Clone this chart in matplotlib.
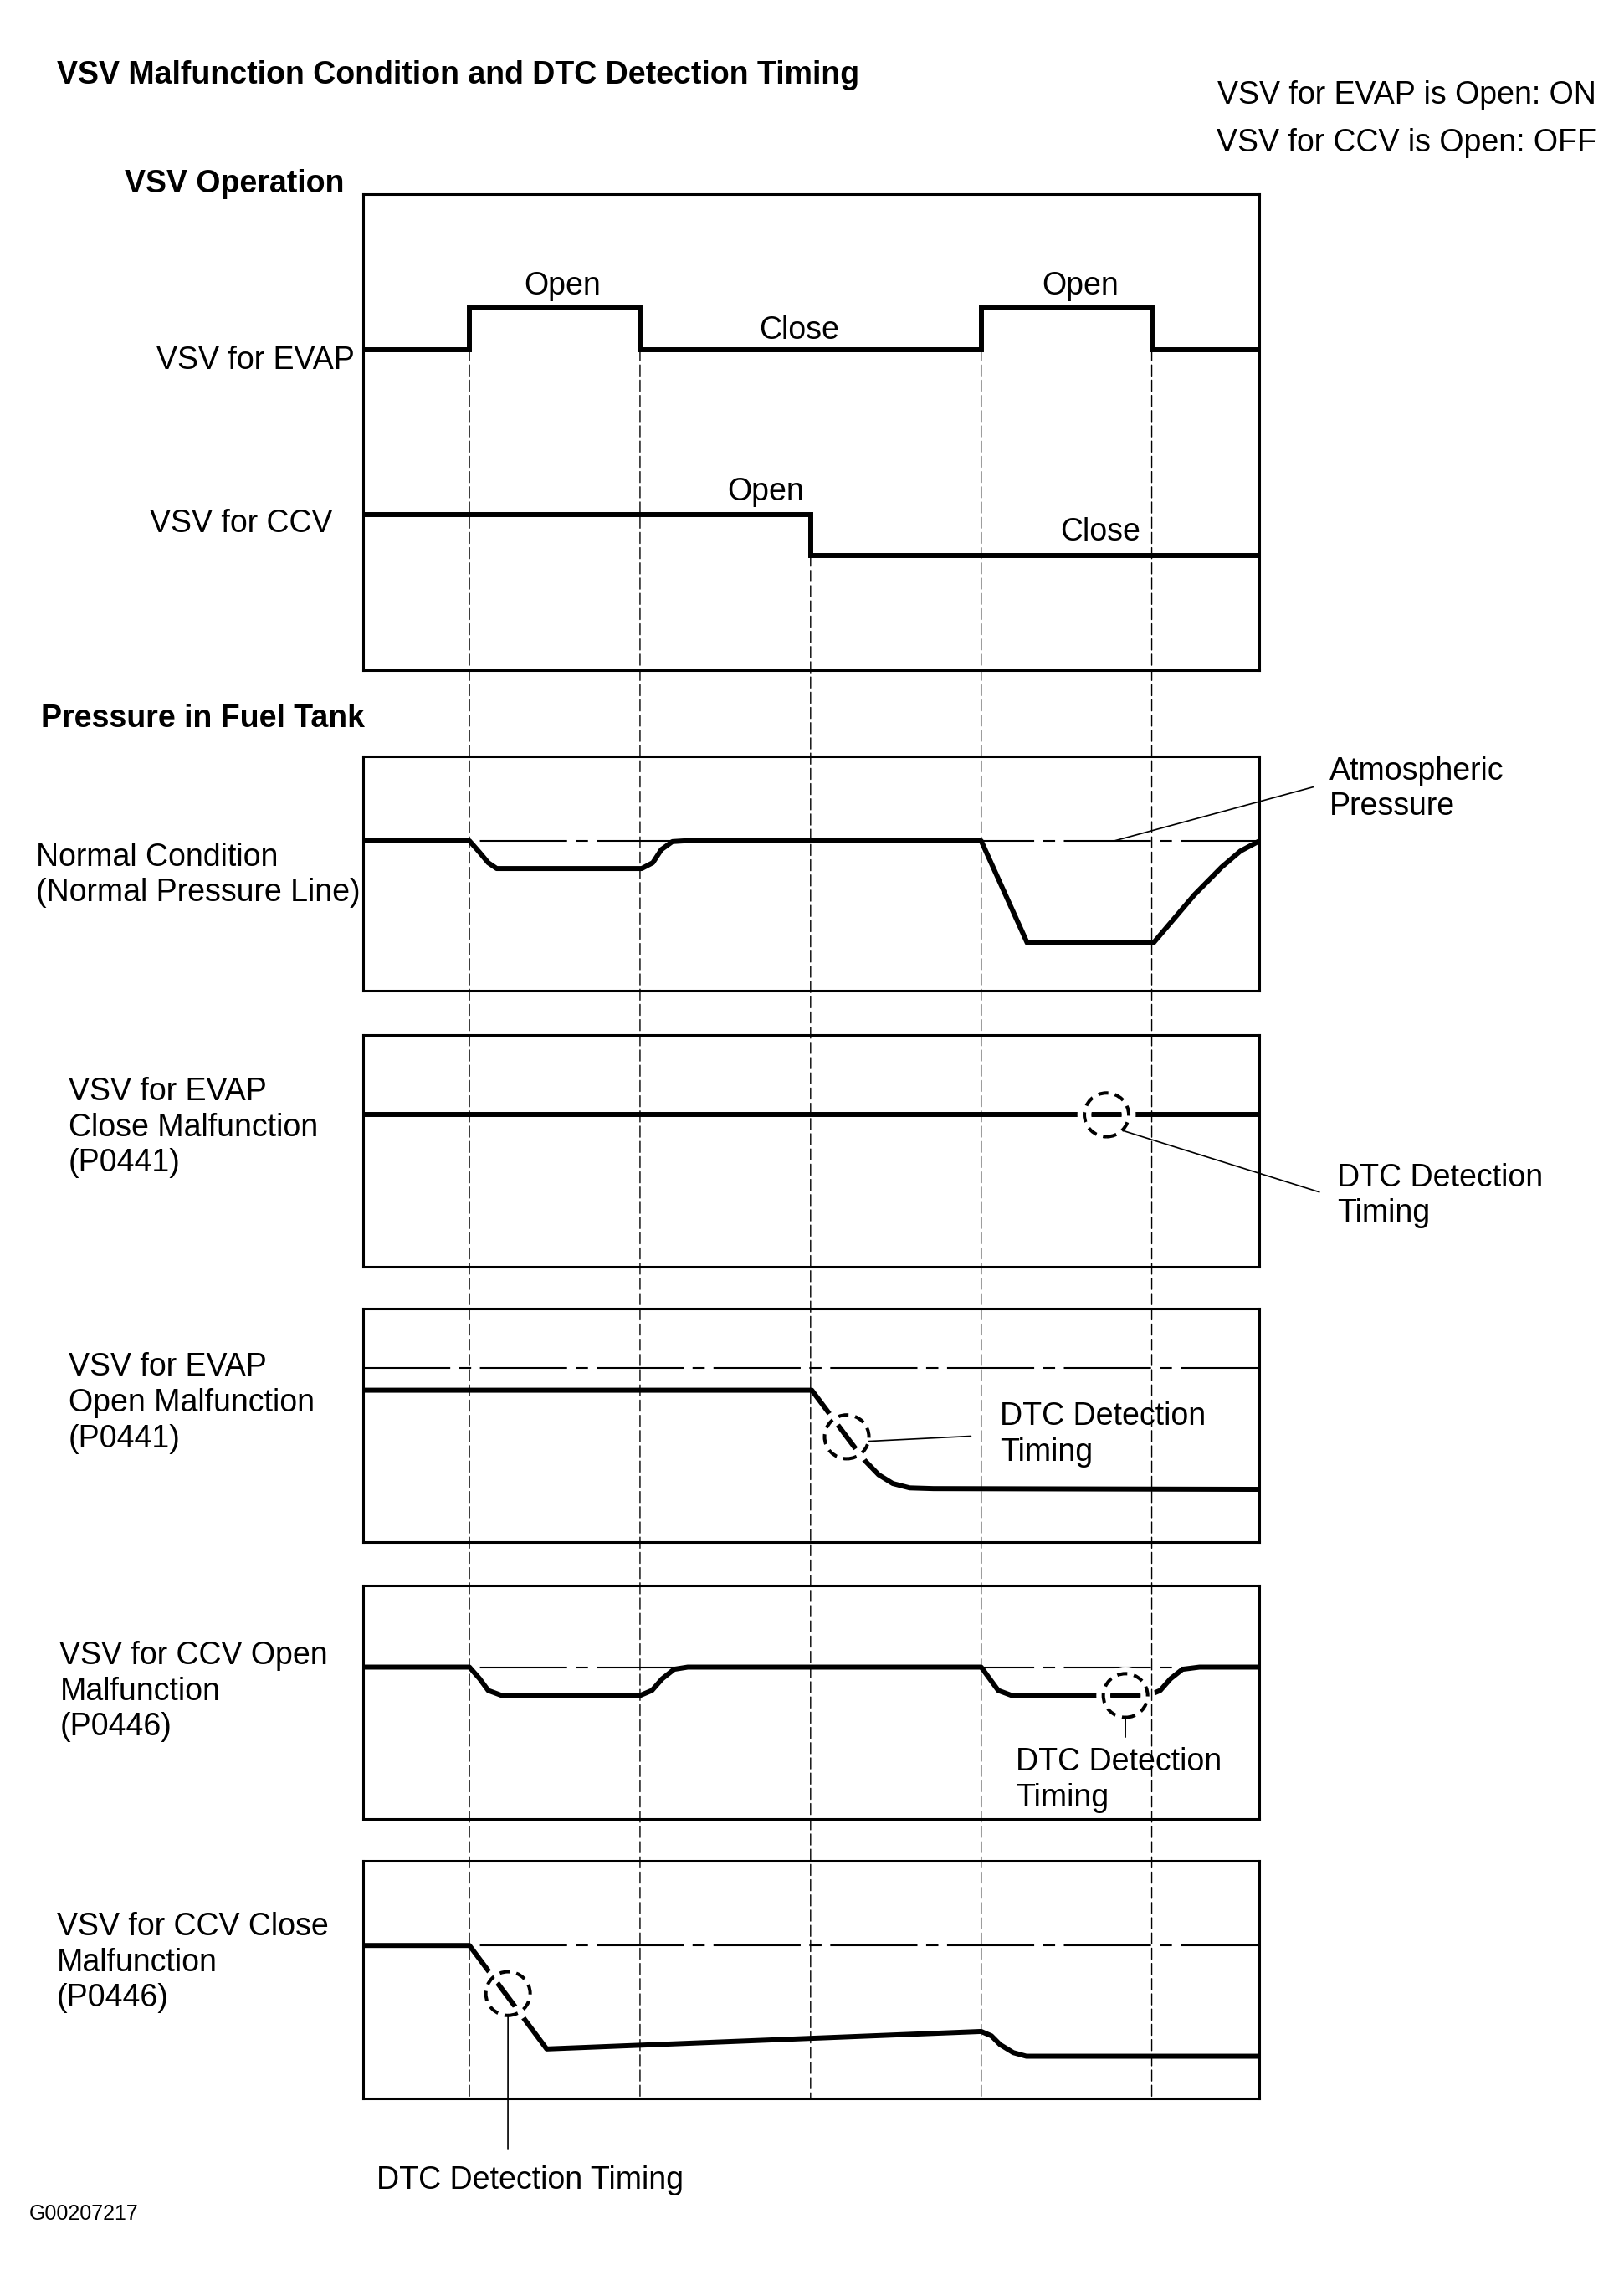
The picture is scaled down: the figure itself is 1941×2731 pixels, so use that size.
import matplotlib
matplotlib.use("Agg")
import matplotlib.pyplot as plt
from matplotlib.patches import Ellipse, ConnectionPatch

plt.rcParams["font.family"] = ["Liberation Sans", "DejaVu Sans"]

# layout grid the boxes and labels are placed on (reference drawing units)
W, H = 1114, 1568

# time axis: the five switching events, and the span of every panel
EVENT_T = [0, 1, 2, 3, 4]
T_MIN, T_MAX = -0.624, 4.632

# VSV operation levels
EVAP_T = [T_MIN, 0, 1, 3, 4, T_MAX]
EVAP_LEVEL = [22.0, 24.9, 22.0, 24.9, 22.0, 22.0]
CCV_T = [T_MIN, 2, T_MAX]
CCV_LEVEL = [10.7, 7.9, 7.9]

# pressure in fuel tank, 0 = atmospheric pressure
NORMAL_T = [T_MIN, 0.0, 0.06, 0.11, 0.16, 1.01, 1.075, 1.125, 1.19, 1.26,
            3.0, 3.27, 4.01, 4.25, 4.41, 4.52, T_MAX]
NORMAL_P = [0, 0, -0.8, -1.5, -1.9, -1.9, -1.5, -0.6, -0.05, 0,
            0, -7.0, -7.0, -3.7, -1.8, -0.7, 0]

EVAP_CLOSE_T = [T_MIN, T_MAX]
EVAP_CLOSE_P = [0, 0]

EVAP_OPEN_T = [T_MIN, 2.007, 2.308, 2.399, 2.482, 2.581, 2.72, T_MAX]
EVAP_OPEN_P = [-1.5, -1.5, -6.2, -7.3, -7.9, -8.2, -8.25, -8.3]

CCV_OPEN_T = [T_MIN, 0, 0.06, 0.11, 0.19, 1.0, 1.07, 1.13, 1.2, 1.28,
              3.0, 3.05, 3.1, 3.18, 3.98, 4.05, 4.11, 4.18, 4.28, T_MAX]
CCV_OPEN_P = [0, 0, -0.8, -1.6, -1.95, -1.95, -1.6, -0.8, -0.15, 0,
              0, -0.8, -1.6, -1.95, -1.95, -1.6, -0.8, -0.15, 0, 0]

CCV_CLOSE_T = [T_MIN, 0.0, 0.453, 3.0, 3.06, 3.111, 3.188, 3.265, T_MAX]
CCV_CLOSE_P = [0, 0, -7.1, -5.9, -6.2, -6.8, -7.35, -7.6, -7.6]

# DTC detection points (time, pressure)
DTC_EVAP_CLOSE = (3.735, 0.0)
DTC_EVAP_OPEN = (2.212, -4.7)
DTC_CCV_OPEN = (3.846, -1.95)
DTC_CCV_CLOSE = (0.226, -3.3)

LW_SIG = 4.3
LW_THIN = 1.2


def box(fig, left, top, right, bottom, ylim):
    ax = fig.add_axes([left / W, 1 - bottom / H, (right - left) / W, (bottom - top) / H])
    ax.set_xlim(T_MIN, T_MAX)
    ax.set_ylim(*ylim)
    ax.set_xticks([])
    ax.set_yticks([])
    for s in ax.spines.values():
        s.set_linewidth(2.2)
    return ax


def text(fig, s, x, y, ha="left", weight="normal", size=27):
    fig.text(x / W, 1 - y / H, s, ha=ha, va="baseline", fontsize=size,
             fontweight=weight)


def lines(fig, rows, x, y, step=24.5):
    for i, s in enumerate(rows):
        text(fig, s, x, y + i * step)


def atm(ax):
    ax.axhline(0, color="black", lw=1.5, ls=(0, (50, 5, 7, 5)), zorder=1)


def mark(ax, t, p):
    ax.add_patch(Ellipse((t, p), 0.26, 3.0, fill=False, ec="white", lw=12, zorder=3))
    ax.add_patch(Ellipse((t, p), 0.26, 3.0, fill=False, ec="black", lw=2.9,
                         ls=(0, (3, 2)), zorder=5))


def leader(ax, xy, fx, fy):
    ax.annotate("", xy=xy, xycoords="data", xytext=(fx / W, 1 - fy / H),
                textcoords="figure fraction", annotation_clip=False, zorder=4,
                arrowprops=dict(arrowstyle="-", lw=LW_THIN, color="black",
                                shrinkA=0, shrinkB=0))


def main():
    fig = plt.figure(figsize=(19.41, 27.31), dpi=100)

    # VSV operation
    ax1 = box(fig, 249, 133, 864, 460, (0, 32.7))
    ax1.plot(EVAP_T, EVAP_LEVEL, drawstyle="steps-post", color="black", lw=LW_SIG,
             solid_joinstyle="miter")
    ax1.plot(CCV_T, CCV_LEVEL, drawstyle="steps-post", color="black", lw=LW_SIG,
             solid_joinstyle="miter")

    # pressure panels
    ax2 = box(fig, 249, 519, 864, 680, (-10.3, 5.8))
    atm(ax2)
    ax2.plot(NORMAL_T, NORMAL_P, color="black", lw=LW_SIG, zorder=2)
    leader(ax2, (3.78, 0), 901, 540)

    ax3 = box(fig, 249, 710, 864, 869, (-10.4, 5.5))
    atm(ax3)
    ax3.plot(EVAP_CLOSE_T, EVAP_CLOSE_P, color="black", lw=LW_SIG, zorder=2)
    mark(ax3, *DTC_EVAP_CLOSE)
    leader(ax3, (DTC_EVAP_CLOSE[0] + 0.1, DTC_EVAP_CLOSE[1] - 1.1), 905, 818)

    ax4 = box(fig, 249, 898, 864, 1058, (-11.9, 4.1))
    atm(ax4)
    ax4.plot(EVAP_OPEN_T, EVAP_OPEN_P, color="black", lw=LW_SIG, zorder=2)
    mark(ax4, *DTC_EVAP_OPEN)
    leader(ax4, (DTC_EVAP_OPEN[0] + 0.13, DTC_EVAP_OPEN[1] - 0.3), 666, 985.5)

    ax5 = box(fig, 249, 1088, 864, 1248, (-10.4, 5.6))
    atm(ax5)
    ax5.plot(CCV_OPEN_T, CCV_OPEN_P, color="black", lw=LW_SIG, zorder=2)
    mark(ax5, *DTC_CCV_OPEN)
    leader(ax5, (DTC_CCV_OPEN[0], DTC_CCV_OPEN[1] - 1.5), 772, 1192)

    ax6 = box(fig, 249, 1277, 864, 1440, (-10.5, 5.8))
    atm(ax6)
    ax6.plot(CCV_CLOSE_T, CCV_CLOSE_P, color="black", lw=LW_SIG, zorder=2)
    mark(ax6, *DTC_CCV_CLOSE)
    leader(ax6, (DTC_CCV_CLOSE[0], DTC_CCV_CLOSE[1] - 1.5), 348.4, 1475)

    # dashed timing lines, from the switching step down to the last panel
    for t in EVENT_T:
        start = CCV_LEVEL[1] if t == CCV_T[1] else EVAP_LEVEL[0]
        con = ConnectionPatch(xyA=(t, start), coordsA=ax1.transData,
                              xyB=(t, ax6.get_ylim()[0]), coordsB=ax6.transData,
                              color="black", lw=1.0, ls=(0, (9.5, 3.6)), zorder=1)
        fig.add_artist(con)

    # texts
    text(fig, "VSV Malfunction Condition and DTC Detection Timing", 39, 57.5, weight="bold")
    text(fig, "VSV for EVAP is Open: ON", 1095, 71, ha="right")
    text(fig, "VSV for CCV is Open: OFF", 1095, 104, ha="right")
    text(fig, "VSV Operation", 85.5, 132, weight="bold")
    text(fig, "Pressure in Fuel Tank", 28, 499, weight="bold")

    text(fig, "Open", 386, 202, ha="center")
    text(fig, "Close", 548, 232.5, ha="center")
    text(fig, "Open", 741, 202, ha="center")
    text(fig, "Open", 525, 343.5, ha="center")
    text(fig, "Close", 754.5, 371, ha="center")
    text(fig, "VSV for EVAP", 243, 253, ha="right")
    text(fig, "VSV for CCV", 228, 365, ha="right")

    lines(fig, ["Normal Condition", "(Normal Pressure Line)"], 24.5, 594)
    lines(fig, ["VSV for EVAP", "Close Malfunction", "(P0441)"], 47, 755)
    lines(fig, ["VSV for EVAP", "Open Malfunction", "(P0441)"], 47, 944)
    lines(fig, ["VSV for CCV Open", "Malfunction", "(P0446)"], 41, 1142)
    lines(fig, ["VSV for CCV Close", "Malfunction", "(P0446)"], 39, 1328)

    lines(fig, ["Atmospheric", "Pressure"], 912, 535)
    lines(fig, ["DTC Detection", "Timing"], 917, 814)
    lines(fig, ["DTC Detection", "Timing"], 686, 978)
    lines(fig, ["DTC Detection", "Timing"], 697, 1215)
    text(fig, "DTC Detection Timing", 258, 1502)

    text(fig, "G00207217", 20, 1523, size=18)

    fig.savefig("out.png", dpi=100)


if __name__ == "__main__":
    main()
